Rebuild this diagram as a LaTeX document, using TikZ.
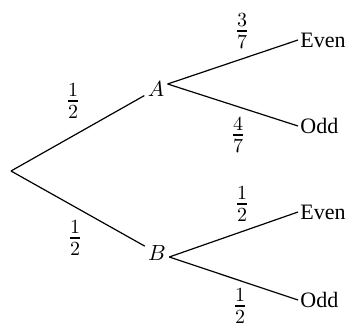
\documentclass[tikz,border=0pt]{standalone}
\usepackage{amsmath}
\usepackage{fontspec}
\setmainfont{Liberation Serif}
\usetikzlibrary{positioning}

\begin{document}
\begin{tikzpicture}[x=0.5pt,y=-0.5pt,font=\fontsize{11}{13}\selectfont,
    branch/.style={line width=0.6pt},
    prob/.style={inner sep=0pt,font=\fontsize{14.5}{16}\selectfont}]
    \useasboundingbox (0,0) rectangle (354,327);
    % stages
    \coordinate (root) at (11,171);
    \node[inner sep=1.5pt] (A) at (156,89) {$A$};
    \node[inner sep=1.5pt] (B) at (157,253) {$B$};
    \node[anchor=west, inner sep=1pt] (AE) at (298,40) {Even};
    \node[anchor=west, inner sep=1pt] (AO) at (298,126) {Odd};
    \node[anchor=west, inner sep=1pt] (BE) at (298,212) {Even};
    \node[anchor=west, inner sep=1pt] (BO) at (298,300) {Odd};
    % branches
    \draw[branch] (root) -- (A);
    \draw[branch] (root) -- (B);
    \draw[branch] ([yshift=2.5pt]A.east) -- (AE.west);
    \draw[branch] ([yshift=2.5pt]A.east) -- (AO.west);
    \draw[branch] ([yshift=-2pt]B.east) -- (BE.west);
    \draw[branch] ([yshift=-2pt]B.east) -- (BO.west);
    % probabilities
    \node[prob] (pA) at (73,101) {$\frac{1}{2}$};
    \node[prob] (pB) at (75,238) {$\frac{1}{2}$};
    \node[prob] (pAE) at (242,31) {$\frac{3}{7}$};
    \node[prob] (pAO) at (238,135) {$\frac{4}{7}$};
    \node[prob] (pBE) at (242,204) {$\frac{1}{2}$};
    \node[prob] (pBO) at (240,306) {$\frac{1}{2}$};
\end{tikzpicture}
\end{document}
